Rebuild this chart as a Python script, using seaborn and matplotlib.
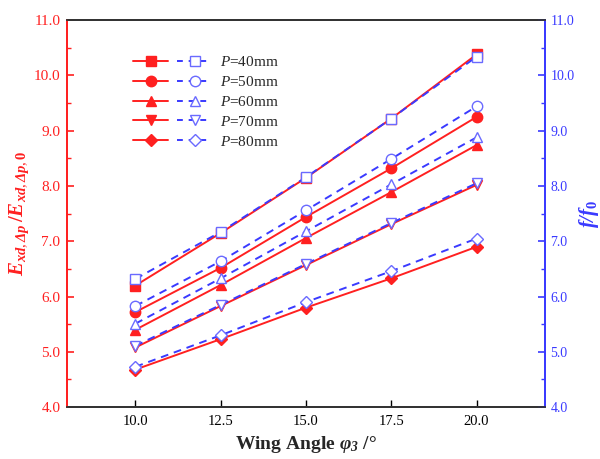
import numpy as np
import pandas as pd
import matplotlib
matplotlib.use("Agg")
import matplotlib.pyplot as plt
import seaborn as sns
from matplotlib.legend_handler import HandlerTuple
from matplotlib.lines import Line2D
from matplotlib.ticker import MultipleLocator

# ---- data ----
angles = [10.0, 12.5, 15.0, 17.5, 20.0]
labels = ["40", "50", "60", "70", "80"]
E_40 = [6.20, 7.15, 8.15, 9.22, 10.38]
E_50 = [5.72, 6.52, 7.44, 8.32, 9.25]
E_60 = [5.40, 6.21, 7.06, 7.89, 8.74]
E_70 = [5.08, 5.83, 6.57, 7.31, 8.02]
E_80 = [4.68, 5.23, 5.80, 6.33, 6.90]
f_40 = [6.32, 7.17, 8.16, 9.22, 10.34]
f_50 = [5.83, 6.64, 7.56, 8.49, 9.44]
f_60 = [5.51, 6.33, 7.18, 8.03, 8.88]
f_70 = [5.11, 5.85, 6.59, 7.33, 8.05]
f_80 = [4.73, 5.30, 5.90, 6.46, 7.05]
E_series = [E_40, E_50, E_60, E_70, E_80]
f_series = [f_40, f_50, f_60, f_70, f_80]

sns.set_style("ticks")
plt.rcParams["font.family"] = ["Liberation Serif", "DejaVu Serif"]
plt.rcParams["mathtext.fontset"] = "custom"
plt.rcParams["mathtext.rm"] = "Liberation Serif"
plt.rcParams["mathtext.it"] = "Liberation Serif:italic"
plt.rcParams["mathtext.bf"] = "Liberation Serif:bold"
plt.rcParams["mathtext.bfit"] = "Liberation Serif:bold:italic"

RED = "#ff2020"
BLUE = "#3a3aff"
markers = ["s", "o", "^", "v", "D"]
msizes = [7, 7.5, 7.5, 7.5, 6.5]

fig = plt.figure(figsize=(6.0, 4.59), dpi=100)
ax = fig.add_axes([0.112, 0.113, 0.796, 0.843])
ax2 = ax.twinx()

handles = []
for i in range(5):
    df = pd.DataFrame({"angle": angles, "E": E_series[i], "f": f_series[i]})
    sns.lineplot(data=df, x="angle", y="E", ax=ax, color=RED, lw=1.4,
                 marker=markers[i], markersize=msizes[i], markerfacecolor=RED,
                 markeredgecolor=RED, markeredgewidth=1.0)
    sns.lineplot(data=df, x="angle", y="f", ax=ax2, color=BLUE, lw=1.4,
                 linestyle=(0, (4, 3)),
                 marker=markers[i], markersize=msizes[i], markerfacecolor="white",
                 markeredgecolor="#6a6aff", markeredgewidth=1.0)
    hr = Line2D([], [], color=RED, lw=1.4, marker=markers[i], markersize=msizes[i],
                markerfacecolor=RED, markeredgecolor=RED)
    hb = Line2D([], [], color=BLUE, lw=1.4, linestyle=(0, (3, 3)), marker=markers[i],
                markersize=msizes[i], markerfacecolor="white", markeredgecolor="#6a6aff")
    handles.append((hr, hb))

for a in (ax, ax2):
    a.set_xlim(8, 22)
    a.set_ylim(4, 11)
    a.yaxis.set_major_locator(MultipleLocator(1.0))
    a.yaxis.set_minor_locator(MultipleLocator(0.5))
    a.yaxis.set_major_formatter(matplotlib.ticker.FormatStrFormatter("%.1f"))

ax.set_xticks(angles)
ax.set_xticklabels([f"{v:.1f}" for v in angles])
ax.tick_params(axis="x", direction="in", length=5, width=1, labelsize=10.5, colors="black", pad=6)
ax.tick_params(axis="y", which="major", direction="in", length=5, width=1.2, labelsize=11,
               colors=RED, pad=5)
ax.tick_params(axis="y", which="minor", direction="in", length=3, width=1.0, colors=RED)
ax2.tick_params(axis="y", which="major", direction="in", length=5, width=1.2, labelsize=10,
                colors=BLUE, pad=4)
ax2.tick_params(axis="y", which="minor", direction="in", length=3, width=1.0, colors=BLUE)

for a in (ax, ax2):
    a.spines["left"].set_color(RED)
    a.spines["right"].set_color(BLUE)
    a.spines["top"].set_color("#333333")
    a.spines["bottom"].set_color("#333333")
    for s in a.spines.values():
        s.set_linewidth(1.3)
    a.spines["top"].set_visible(True)
    a.spines["right"].set_visible(True)

ax.set_xlabel(r"Wing Angle $\mathbfit{\varphi}_{\mathbfit{3}}$ /°", fontsize=14, fontweight="bold", labelpad=4)
ax.set_ylabel(r"$\mathbfit{E}_{\mathbfit{xd},\mathbfit{\Delta p}}\,\mathbf{/}\mathbfit{E}_{\mathbfit{xd},\mathbfit{\Delta p},\mathbf{0}}$",
              fontsize=15, color=RED, labelpad=2)
ax2.set_ylabel(r"$\mathbfit{f/f}_{\mathbf{0}}$", fontsize=15, color=BLUE, labelpad=2)

leg_labels = [rf"$P$=" + f"{l}mm" for l in labels]
leg = ax.legend(handles, leg_labels, handler_map={tuple: HandlerTuple(ndivide=None, pad=0.6)},
                loc="upper left", bbox_to_anchor=(0.125, 0.925), frameon=False, fontsize=11,
                handlelength=5.2, handletextpad=0.5, labelspacing=0.38, borderaxespad=0)

fig.savefig("out.png", dpi=100)
